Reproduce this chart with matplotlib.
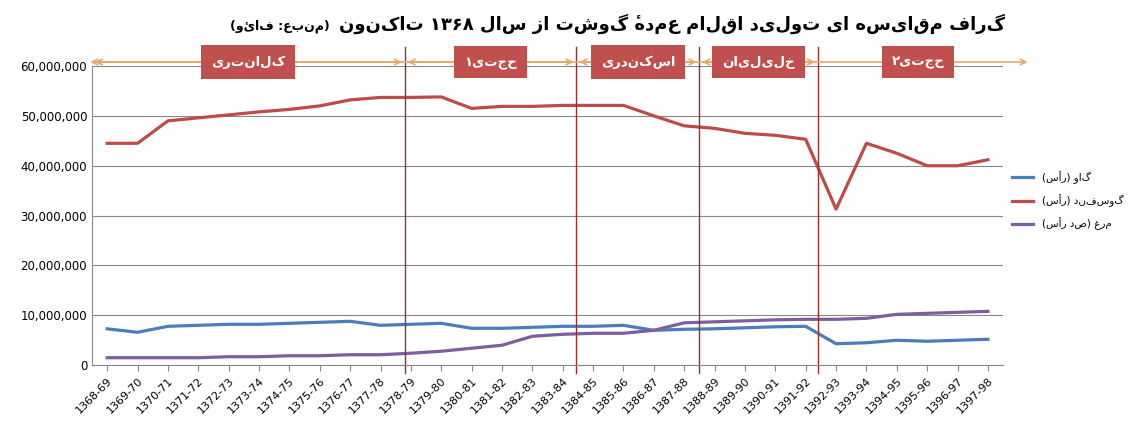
import re
import matplotlib
matplotlib.use("Agg")
import matplotlib.pyplot as plt
from matplotlib.ticker import FuncFormatter

def rtl(s):
    r = s[::-1].translate(str.maketrans("()", ")("))
    return re.sub(r"[0-9\u06F0-\u06F9\u0660-\u0669]+", lambda m: m.group(0)[::-1], r)

years = [f"{y}-{(y + 1) % 100:02d}" for y in range(1368, 1398)]
cattle = [7.3, 6.6, 7.8, 8.0, 8.2, 8.2, 8.4, 8.6, 8.8, 8.0, 8.2, 8.4, 7.4, 7.4, 7.6, 7.8, 7.8, 8.0, 7.0, 7.2,
          7.3, 7.5, 7.7, 7.8, 4.3, 4.5, 5.0, 4.8, 5.0, 5.2]
sheep = [44.5, 44.5, 49.0, 49.6, 50.2, 50.8, 51.3, 52.0, 53.2, 53.7, 53.7, 53.8, 51.5, 51.9, 51.9, 52.1, 52.1, 52.1,
         50.0, 48.0, 47.5, 46.5, 46.1, 45.3, 31.3, 44.5, 42.5, 40.0, 40.0, 41.2]
poultry = [1.5, 1.5, 1.5, 1.5, 1.7, 1.7, 1.9, 1.9, 2.1, 2.1, 2.4, 2.8, 3.4, 4.0, 5.8, 6.2, 6.4, 6.4, 7.0, 8.5,
           8.7, 8.9, 9.1, 9.2, 9.2, 9.4, 10.2, 10.4, 10.6, 10.8]
series_names = ["گاو (رأس)", "گوسفند (رأس)", "مرغ (صد رأس)"]
periods = ["کلانتری", "حجتی۱", "اسکندری", "خلیلیان", "حجتی۲"]
period_bounds = [-0.5, 9.8, 15.45, 19.5, 23.4, 30.0]
title = "گراف مقایسه ای تولید اقلام عمدهٔ گوشت از سال ۱۳۶۸ تاکنون"
source = "(منبع: فائو)"

plt.rcParams['font.family'] = ['DejaVu Sans']
fig = plt.figure(figsize=(11.36, 4.4), dpi=100)
ax = fig.add_axes([0.081, 0.17, 0.802, 0.68])
x = list(range(len(years)))
cols = ["#4A7EBB", "#BE4B48", "#7D5FA0"]
for vals, c, n in zip([cattle, sheep, poultry], cols, series_names):
    ax.plot(x, [v * 1e6 for v in vals], color=c, lw=2.3, label=rtl(n))
ax.set_xlim(-0.5, 29.5)
ax.set_ylim(0, 60e6)
ax.set_yticks(range(0, 60000001, 10000000))
ax.yaxis.set_major_formatter(FuncFormatter(lambda v, p: f"{int(v):,}"))
ax.grid(axis='y', color='#888888', lw=0.8)
ax.set_axisbelow(True)
ax.set_xticks(x)
ax.set_xticklabels(years, rotation=45, ha='right', rotation_mode='anchor', fontsize=8)
ax.tick_params(axis='y', labelsize=8.5, length=0)
ax.tick_params(axis='x', length=4, color='#888888')
for s in ['top', 'right']:
    ax.spines[s].set_visible(False)
for s in ['left', 'bottom']:
    ax.spines[s].set_color('#888888')

for b in period_bounds[1:-1]:
    ax.plot([b, b], [-1.5e6, 63.8e6], color="#9B2D2D", lw=1, clip_on=False)
ax.annotate("", xy=(-0.65, 60.8e6), xytext=(30.4, 60.8e6), annotation_clip=False,
            arrowprops=dict(arrowstyle="<->", color="#E4A86B", lw=1.2))
for i, p in enumerate(periods):
    lo, hi = period_bounds[i], period_bounds[i + 1]
    if i < len(periods) - 1:
        ax.annotate("", xy=(lo, 60.8e6), xytext=(hi, 60.8e6), annotation_clip=False,
                    arrowprops=dict(arrowstyle="<->", color="#E4A86B", lw=1.2))
    ax.text((lo + hi) / 2, 60.8e6, rtl(p), ha='center', va='center', color='white', fontsize=9.5,
            fontweight='bold', clip_on=False,
            bbox=dict(boxstyle='square,pad=0.75', fc="#C0504D", ec="none"))

fig.text(0.885, 0.945, rtl(title), ha='right', va='center', fontsize=13, fontweight='bold')
fig.text(0.29, 0.94, rtl(source), ha='right', va='center', fontsize=9, fontweight='bold')
ax.legend(loc='center left', bbox_to_anchor=(1.0, 0.55), frameon=False, fontsize=7.5,
          handlelength=2, labelspacing=1.0)
fig.savefig("out.png", dpi=100)
